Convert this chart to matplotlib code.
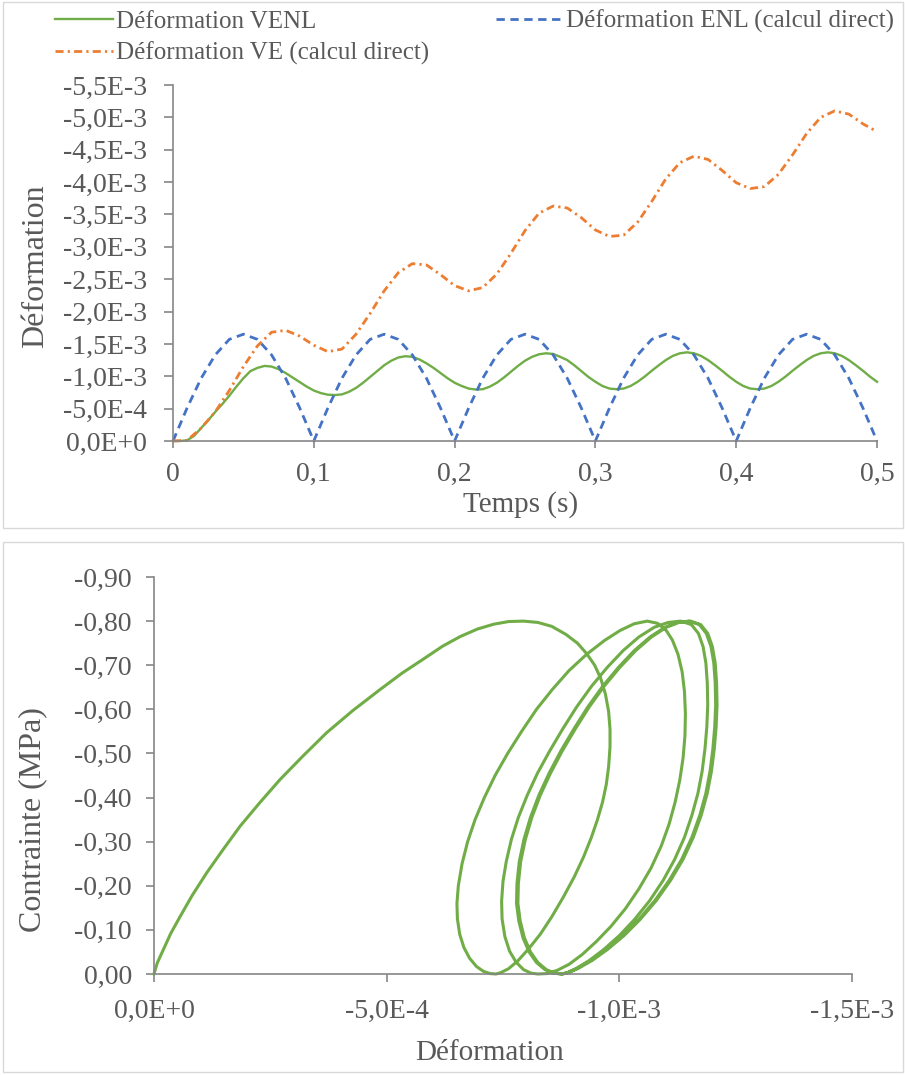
import numpy as np
import matplotlib
matplotlib.use("Agg")
import matplotlib.pyplot as plt
from matplotlib.patches import Rectangle
from matplotlib.ticker import FuncFormatter

plt.rcParams['font.family'] = ['Liberation Serif', 'DejaVu Serif']

# ---- top chart: strain vs time (values in 1E-3, plotted negative) ----
temps = np.round(np.arange(0, 0.501, 0.01), 2)
temps_fin = np.round(np.arange(0, 0.5001, 0.005), 3)

def_venl = [0.00, 0.00, 0.01, 0.08, 0.20, 0.32, 0.45, 0.57, 0.70, 0.84,
            0.97, 1.08, 1.13, 1.16, 1.15, 1.11, 1.05, 0.98, 0.91, 0.84,
            0.78, 0.74, 0.715, 0.71, 0.72, 0.76, 0.82, 0.90, 0.99, 1.08,
            1.17, 1.24, 1.29, 1.31, 1.30, 1.26, 1.20, 1.13, 1.05, 0.97,
            0.90, 0.85, 0.81, 0.795, 0.80, 0.84, 0.90, 0.98, 1.07, 1.16,
            1.24, 1.30, 1.34, 1.355, 1.345, 1.30, 1.25, 1.17, 1.08, 0.99,
            0.915, 0.85, 0.81, 0.80, 0.81, 0.85, 0.915, 0.995, 1.085, 1.17,
            1.25, 1.315, 1.355, 1.37, 1.355, 1.315, 1.25, 1.17, 1.085, 0.995,
            0.915, 0.85, 0.81, 0.80, 0.81, 0.85, 0.915, 0.995, 1.085, 1.17,
            1.25, 1.315, 1.355, 1.37, 1.355, 1.315, 1.25, 1.17, 1.085, 0.995,
            0.915]

def_enl = [0.00, 0.51, 0.97, 1.33, 1.57, 1.65, 1.57, 1.33, 0.97, 0.51,
           0.00, 0.51, 0.97, 1.33, 1.57, 1.65, 1.57, 1.33, 0.97, 0.51,
           0.00, 0.51, 0.97, 1.33, 1.57, 1.65, 1.57, 1.33, 0.97, 0.51,
           0.00, 0.51, 0.97, 1.33, 1.57, 1.65, 1.57, 1.33, 0.97, 0.51,
           0.00, 0.51, 0.97, 1.33, 1.57, 1.65, 1.57, 1.33, 0.97, 0.51,
           0.00]

def_ve = [0.00, 0.01, 0.20, 0.45, 0.78, 1.15, 1.47, 1.68, 1.71, 1.62,
          1.48, 1.38, 1.42, 1.65, 1.97, 2.32, 2.60, 2.74, 2.72, 2.57,
          2.40, 2.32, 2.37, 2.58, 2.90, 3.25, 3.52, 3.63, 3.60, 3.45,
          3.26, 3.16, 3.18, 3.38, 3.70, 4.05, 4.30, 4.40, 4.35, 4.18,
          3.99, 3.90, 3.93, 4.12, 4.42, 4.75, 5.00, 5.10, 5.05, 4.90,
          4.78]

# ---- bottom chart: stress vs strain loops (strain in 1E-4, stress in MPa) ----
loop1_strain = [0.00, 0.07, 0.20, 0.36, 0.56, 0.82, 1.13, 1.47, 1.85, 2.27,
                2.71, 3.20, 3.71, 4.27, 4.86, 5.33, 5.79, 6.20, 6.58, 6.95,
                7.30, 7.62, 7.94, 8.25, 8.55, 8.85, 9.10, 9.30, 9.47, 9.60,
                9.70, 9.77, 9.80, 9.80, 9.77, 9.72, 9.64, 9.53, 9.40, 9.23,
                9.03, 8.80, 8.55, 8.30, 8.05, 7.82, 7.62, 7.45, 7.35]
loop1_stress = [0.000, 0.025, 0.055, 0.092, 0.130, 0.178, 0.229, 0.280, 0.335, 0.388,
                0.441, 0.494, 0.547, 0.597, 0.645, 0.682, 0.714, 0.743, 0.765, 0.782,
                0.793, 0.799, 0.800, 0.797, 0.788, 0.770, 0.750, 0.726, 0.700, 0.670,
                0.635, 0.595, 0.555, 0.515, 0.470, 0.430, 0.390, 0.350, 0.310, 0.265,
                0.220, 0.175, 0.130, 0.090, 0.057, 0.030, 0.012, 0.003, 0.000]

loop2_strain = [7.22, 7.08, 6.93, 6.78, 6.66, 6.57, 6.52, 6.51, 6.54, 6.62,
                6.74, 6.90, 7.10, 7.33, 7.60, 7.90, 8.22, 8.56, 8.92, 9.30,
                9.68, 10.02, 10.32, 10.60, 10.82, 11.00, 11.14, 11.26, 11.35, 11.40,
                11.42, 11.41, 11.37, 11.30, 11.20, 11.07, 10.90, 10.68, 10.42, 10.13,
                9.82, 9.50, 9.20, 8.92, 8.66, 8.44, 8.25]
loop2_stress = [0.001, 0.006, 0.017, 0.036, 0.060, 0.090, 0.125, 0.160, 0.200, 0.250,
                0.300, 0.350, 0.400, 0.450, 0.500, 0.550, 0.600, 0.645, 0.688, 0.725,
                0.756, 0.779, 0.794, 0.800, 0.795, 0.780, 0.757, 0.725, 0.685, 0.640,
                0.590, 0.540, 0.490, 0.440, 0.390, 0.340, 0.290, 0.240, 0.193, 0.148,
                0.108, 0.073, 0.044, 0.022, 0.008, 0.001, 0.000]

loop3_strain = [8.10, 7.94, 7.78, 7.64, 7.54, 7.48, 7.47, 7.50, 7.57, 7.68,
                7.83, 8.02, 8.24, 8.50, 8.78, 9.08, 9.40, 9.74, 10.08, 10.42,
                10.75, 11.05, 11.32, 11.55, 11.70, 11.80, 11.86, 11.89, 11.90, 11.88,
                11.84, 11.78, 11.69, 11.56, 11.40, 11.19, 10.94, 10.65, 10.33, 10.00,
                9.67, 9.36, 9.08, 8.88, 8.75]
loop3_stress = [0.002, 0.010, 0.027, 0.052, 0.085, 0.125, 0.165, 0.210, 0.255, 0.305,
                0.355, 0.405, 0.455, 0.505, 0.555, 0.605, 0.652, 0.695, 0.733, 0.764,
                0.786, 0.797, 0.800, 0.792, 0.772, 0.742, 0.705, 0.660, 0.610, 0.560,
                0.510, 0.460, 0.410, 0.360, 0.310, 0.260, 0.212, 0.166, 0.124, 0.087,
                0.056, 0.031, 0.013, 0.003, 0.000]

loop4_strain = [8.58, 8.40, 8.22, 8.06, 7.93, 7.84, 7.79, 7.80, 7.85, 7.95,
                8.09, 8.27, 8.49, 8.74, 9.02, 9.32, 9.64, 9.98, 10.32, 10.66,
                10.98, 11.25, 11.50, 11.72, 11.87, 11.97, 12.03, 12.06, 12.07, 12.05,
                12.01, 11.95, 11.86, 11.73, 11.56, 11.34, 11.07, 10.76, 10.42, 10.07,
                9.72, 9.39, 9.10, 8.89, 8.76]
loop4_stress = [0.002, 0.010, 0.026, 0.050, 0.082, 0.120, 0.160, 0.205, 0.255, 0.305,
                0.355, 0.405, 0.455, 0.505, 0.555, 0.605, 0.652, 0.695, 0.733, 0.764,
                0.786, 0.797, 0.800, 0.792, 0.772, 0.742, 0.705, 0.660, 0.610, 0.560,
                0.510, 0.460, 0.410, 0.360, 0.310, 0.260, 0.212, 0.166, 0.124, 0.087,
                0.056, 0.031, 0.013, 0.003, 0.000]

loop5_strain = [8.60, 8.43, 8.25, 8.09, 7.96, 7.87, 7.82, 7.83, 7.88, 7.98,
                8.12, 8.30, 8.52, 8.77, 9.05, 9.35, 9.67, 10.01, 10.35, 10.69,
                11.01, 11.28, 11.53, 11.75, 11.90, 12.00, 12.06, 12.09, 12.10, 12.08,
                12.04, 11.98, 11.89, 11.76, 11.59, 11.37, 11.10, 10.79, 10.45, 10.10,
                9.75, 9.42, 9.12, 8.91, 8.78]
loop5_stress = [0.002, 0.010, 0.026, 0.050, 0.082, 0.120, 0.160, 0.205, 0.255, 0.305,
                0.355, 0.405, 0.455, 0.505, 0.555, 0.605, 0.652, 0.695, 0.733, 0.764,
                0.786, 0.797, 0.800, 0.792, 0.772, 0.742, 0.705, 0.660, 0.610, 0.560,
                0.510, 0.460, 0.410, 0.360, 0.310, 0.260, 0.212, 0.166, 0.124, 0.087,
                0.056, 0.031, 0.013, 0.003, 0.000]

green = '#70AD47'
blue = '#4472C4'
orange = '#ED7D31'
axis_col = '#868686'
text_col = '#595959'


def fmt_sci(v, pos):
    if abs(v) < 1e-12:
        return '0,0E+0'
    e = int(np.floor(np.log10(abs(v)) + 1e-9))
    return f'{v / 10**e:.1f}E{e:+d}'.replace('.', ',')


def fmt_t(v, pos):
    if abs(v) < 1e-12:
        return '0'
    return f'{v:.1f}'.replace('.', ',')


def fmt_mpa(v, pos):
    if abs(v) < 1e-12:
        return '0,00'
    return f'{v:.2f}'.replace('.', ',')


def style_axes(ax):
    for s in ['top', 'right']:
        ax.spines[s].set_visible(False)
    for s in ['left', 'bottom']:
        ax.spines[s].set_color(axis_col)
        ax.spines[s].set_linewidth(1.2)


fig = plt.figure(figsize=(9.05, 10.75), dpi=100)

# panel frames
fig.patches.append(Rectangle((3 / 905, 1 - 528 / 1075), 900 / 905, 526 / 1075,
                             transform=fig.transFigure, fill=False,
                             edgecolor='#D9D9D9', lw=1))
fig.patches.append(Rectangle((3 / 905, 1 - 1072 / 1075), 900 / 905, 530 / 1075,
                             transform=fig.transFigure, fill=False,
                             edgecolor='#D9D9D9', lw=1))

# %% top chart
ax1 = fig.add_axes([173 / 905, 1 - 441 / 1075, 704 / 905, 356 / 1075])
style_axes(ax1)
venl = -np.array(def_venl) * 1e-3
enl = -np.array(def_enl) * 1e-3
ve = -np.array(def_ve) * 1e-3
l1, = ax1.plot(temps_fin, venl, color=green, lw=1.7, label='Déformation VENL', clip_on=False)
l2, = ax1.plot(temps, enl, color=blue, lw=2.0, dashes=(3, 2),
               label='Déformation ENL (calcul direct)', clip_on=False)
l3, = ax1.plot(temps, ve, color=orange, lw=2.0, dashes=(2.9, 1.5, 0.8, 1.5),
               label='Déformation VE (calcul direct)', clip_on=False)
ax1.set_xlim(0, 0.5)
ax1.set_ylim(0, -5.5e-3)
ax1.set_xticks([0, 0.1, 0.2, 0.3, 0.4, 0.5])
ax1.set_yticks(np.arange(0, -5.51e-3, -0.5e-3))
ax1.xaxis.set_major_formatter(FuncFormatter(fmt_t))
ax1.yaxis.set_major_formatter(FuncFormatter(fmt_sci))
ax1.tick_params(axis='y', length=6.5, width=1.2, color=axis_col, pad=12,
                labelsize=20, labelcolor=text_col)
ax1.tick_params(axis='x', length=5, width=1.2, color=axis_col, pad=10,
                labelsize=20, labelcolor=text_col)
ax1.set_xlabel('Temps (s)', fontsize=21, color=text_col)
ax1.xaxis.set_label_coords(0.494, -0.142)
ax1.set_ylabel('Déformation', fontsize=23, color=text_col)
ax1.yaxis.set_label_coords(-0.175, 0.49)

leg_a = fig.legend([l1, l3], [l1.get_label(), l3.get_label()], loc='upper left',
                   bbox_to_anchor=(55 / 905, 1 - 10 / 1075), frameon=False,
                   fontsize=18, handlelength=2.3, handletextpad=0.15,
                   borderpad=0, borderaxespad=0, labelspacing=0.38,
                   labelcolor=text_col)
leg_b = fig.legend([l2], [l2.get_label()], loc='upper left',
                   bbox_to_anchor=(496 / 905, 1 - 10 / 1075), frameon=False,
                   fontsize=18, handlelength=2.7, handletextpad=0.1,
                   borderpad=0, borderaxespad=0, labelcolor=text_col)

# %% bottom chart
ax2 = fig.add_axes([154 / 905, 1 - 974 / 1075, 698 / 905, 397 / 1075])
style_axes(ax2)
strain = np.concatenate([loop1_strain, loop2_strain, loop3_strain,
                         loop4_strain, loop5_strain])
stress = np.concatenate([loop1_stress, loop2_stress, loop3_stress,
                         loop4_stress, loop5_stress])
ax2.plot(-strain * 1e-4, -stress, color=green, lw=2.2, clip_on=False,
         solid_joinstyle='round')
ax2.set_xlim(0, -1.5e-3)
ax2.set_ylim(0, -0.9)
ax2.set_xticks([0, -5e-4, -1e-3, -1.5e-3])
ax2.set_yticks(np.round(np.arange(0, -0.91, -0.1), 2))
ax2.xaxis.set_major_formatter(FuncFormatter(fmt_sci))
ax2.yaxis.set_major_formatter(FuncFormatter(fmt_mpa))
ax2.tick_params(axis='y', length=6, width=1.2, color=axis_col, pad=10,
                labelsize=20, labelcolor=text_col)
ax2.tick_params(axis='x', length=6, width=1.2, color=axis_col, pad=12,
                labelsize=20, labelcolor=text_col)
ax2.set_xlabel('Déformation', fontsize=21, color=text_col)
ax2.xaxis.set_label_coords(0.481, -0.165)
ax2.set_ylabel('Contrainte (MPa)', fontsize=23, color=text_col)
ax2.yaxis.set_label_coords(-0.153, 0.39)

fig.savefig('out.png', dpi=100)
